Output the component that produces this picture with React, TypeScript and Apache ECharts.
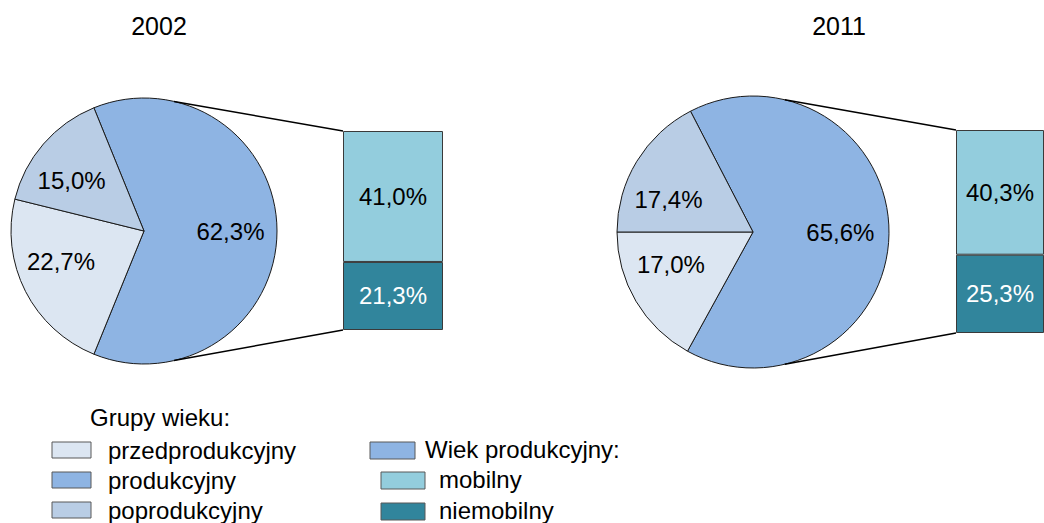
import React, { useEffect, useRef } from "react";
import * as echarts from "echarts";

const years = ["2002", "2011"];
const ageGroups = ["produkcyjny", "przedprodukcyjny", "poprodukcyjny"];
const ageValues2002 = [62.3, 22.7, 15.0];
const ageValues2011 = [65.6, 17.0, 17.4];
const mobilityGroups = ["niemobilny", "mobilny"];
const mobility2002 = [21.3, 41.0];
const mobility2011 = [25.3, 40.3];
const legendTitle = "Grupy wieku:";
const legendSecondTitle = "Wiek produkcyjny:";

const COLORS: Record<string, string> = {
  produkcyjny: "#8EB4E3",
  przedprodukcyjny: "#DCE6F2",
  poprodukcyjny: "#B9CDE5",
  mobilny: "#93CDDD",
  niemobilny: "#31859C",
};

const FONT = "'Liberation Sans', Arial, sans-serif";
const fmt = (v: number) => v.toFixed(1).replace(".", ",") + "%";

// layout (style/position only)
const panels = [
  {
    cx: 144, cy: 231, r: 133, startAngle: 112.14,
    grid: { left: 343, top: 131, width: 100, height: 199 },
    nudges: [[0, 0], [-6, -9], [-7, 6]],
    titleX: 159, connAngle: 77,
  },
  {
    cx: 753, cy: 232, r: 136, startAngle: 117.36,
    grid: { left: 956, top: 130, width: 100, height: 203 },
    nudges: [[-1, -1], [-6, -12], [-9, 13]],
    titleX: 839, connAngle: 76.5,
  },
];

export default function App() {
  const ref = useRef<HTMLDivElement>(null);
  useEffect(() => {
    document.body.style.margin = "0";
    if (!ref.current) return;
    const chart = echarts.init(ref.current, undefined, { renderer: "svg" });
    const ageData = [ageValues2002, ageValues2011];
    const mobData = [mobility2002, mobility2011];

    const series: any[] = [];
    const graphics: any[] = [];

    panels.forEach((p, pi) => {
      const vals = ageData[pi];
      const total = vals.reduce((a, b) => a + b, 0);
      const mids: number[] = [];
      let cum = 0;
      vals.forEach((v) => {
        mids.push(p.startAngle - ((cum + v / 2) / total) * 360);
        cum += v;
      });
      series.push({
        type: "pie",
        center: [p.cx, p.cy],
        radius: [0, p.r],
        startAngle: p.startAngle,
        clockwise: true,
        silent: true,
        avoidLabelOverlap: false,
        minShowLabelAngle: 0,
        itemStyle: { borderColor: "#1a1a1a", borderWidth: 1 },
        label: {
          show: true,
          position: "inside",
          formatter: (d: any) => fmt(d.value),
          fontSize: 24,
          fontFamily: FONT,
          color: "#000",
        },
        labelLine: { show: false },
        labelLayout: (params: any) => {
          const i = params.dataIndex;
          const a = (mids[i] * Math.PI) / 180;
          const f = 0.65 * p.r;
          return {
            x: p.cx + f * Math.cos(a) + p.nudges[i][0],
            y: p.cy - f * Math.sin(a) + p.nudges[i][1],
          };
        },
        data: ageGroups.map((name, i) => ({
          name,
          value: vals[i],
          itemStyle: { color: COLORS[name] },
        })),
      });

      const mvals = mobData[pi];
      mobilityGroups.forEach((name, mi) => {
        series.push({
          type: "bar",
          name,
          xAxisIndex: pi,
          yAxisIndex: pi,
          stack: "mob" + pi,
          barWidth: "100%",
          silent: true,
          itemStyle: { color: COLORS[name], borderColor: "#3a3a3a", borderWidth: 1 },
          label: {
            show: true,
            position: "inside",
            formatter: (d: any) => fmt(d.value),
            fontSize: 24,
            fontFamily: FONT,
            color: name === "niemobilny" ? "#fff" : "#000",
          },
          data: [mvals[mi]],
        });
      });

      // connector lines from pie edge to bar corners
      const ca = (p.connAngle * Math.PI) / 180;
      const px = p.cx + p.r * Math.cos(ca);
      const pyTop = p.cy - p.r * Math.sin(ca);
      const pyBot = p.cy + p.r * Math.sin(ca);
      graphics.push({
        type: "line",
        shape: { x1: px, y1: pyTop, x2: p.grid.left, y2: p.grid.top },
        style: { stroke: "#000", lineWidth: 1.5 },
        z: 10,
      });
      graphics.push({
        type: "line",
        shape: { x1: px, y1: pyBot, x2: p.grid.left, y2: p.grid.top + p.grid.height },
        style: { stroke: "#000", lineWidth: 1.5 },
        z: 10,
      });
      graphics.push({
        type: "text",
        x: p.titleX,
        y: 26,
        style: {
          text: years[pi],
          fontSize: 25,
          fontFamily: FONT,
          fill: "#000",
          align: "center",
          verticalAlign: "middle",
        },
      });
    });

    // legend
    const legendText = (text: string, x: number, y: number) => ({
      type: "text",
      x,
      y,
      style: { text, fontSize: 24, fontFamily: FONT, fill: "#000", align: "left", verticalAlign: "middle" },
    });
    const swatch = (color: string, x: number, y: number, w: number, h: number) => ({
      type: "rect",
      shape: { x, y, width: w, height: h },
      style: { fill: color, stroke: "#595959", lineWidth: 1 },
    });
    graphics.push(legendText(legendTitle, 90, 417));
    const leftOrder = ["przedprodukcyjny", "produkcyjny", "poprodukcyjny"];
    leftOrder.forEach((name, i) => {
      const y = 442 + i * 30;
      graphics.push(swatch(COLORS[name], 52, y, 39, 16));
      graphics.push(legendText(name, 108, y + 8));
    });
    graphics.push(swatch(COLORS.produkcyjny, 370, 442, 45, 17));
    graphics.push(legendText(legendSecondTitle, 425, 449));
    const rightOrder = ["mobilny", "niemobilny"];
    rightOrder.forEach((name, i) => {
      const y = 472 + i * 31;
      graphics.push(swatch(COLORS[name], 381, y, 44, 17));
      graphics.push(legendText(name, 439, y + 7));
    });

    chart.setOption({
      animation: false,
      grid: panels.map((p) => ({ ...p.grid })),
      xAxis: panels.map((_, i) => ({ type: "category", gridIndex: i, data: [""], show: false })),
      yAxis: panels.map((_, i) => ({
        type: "value",
        gridIndex: i,
        min: 0,
        max: mobData[i].reduce((a, b) => a + b, 0),
        show: false,
      })),
      series,
      graphic: graphics,
    });
    return () => chart.dispose();
  }, []);
  return <div ref={ref} style={{ width: 1044, height: 523 }} />;
}
